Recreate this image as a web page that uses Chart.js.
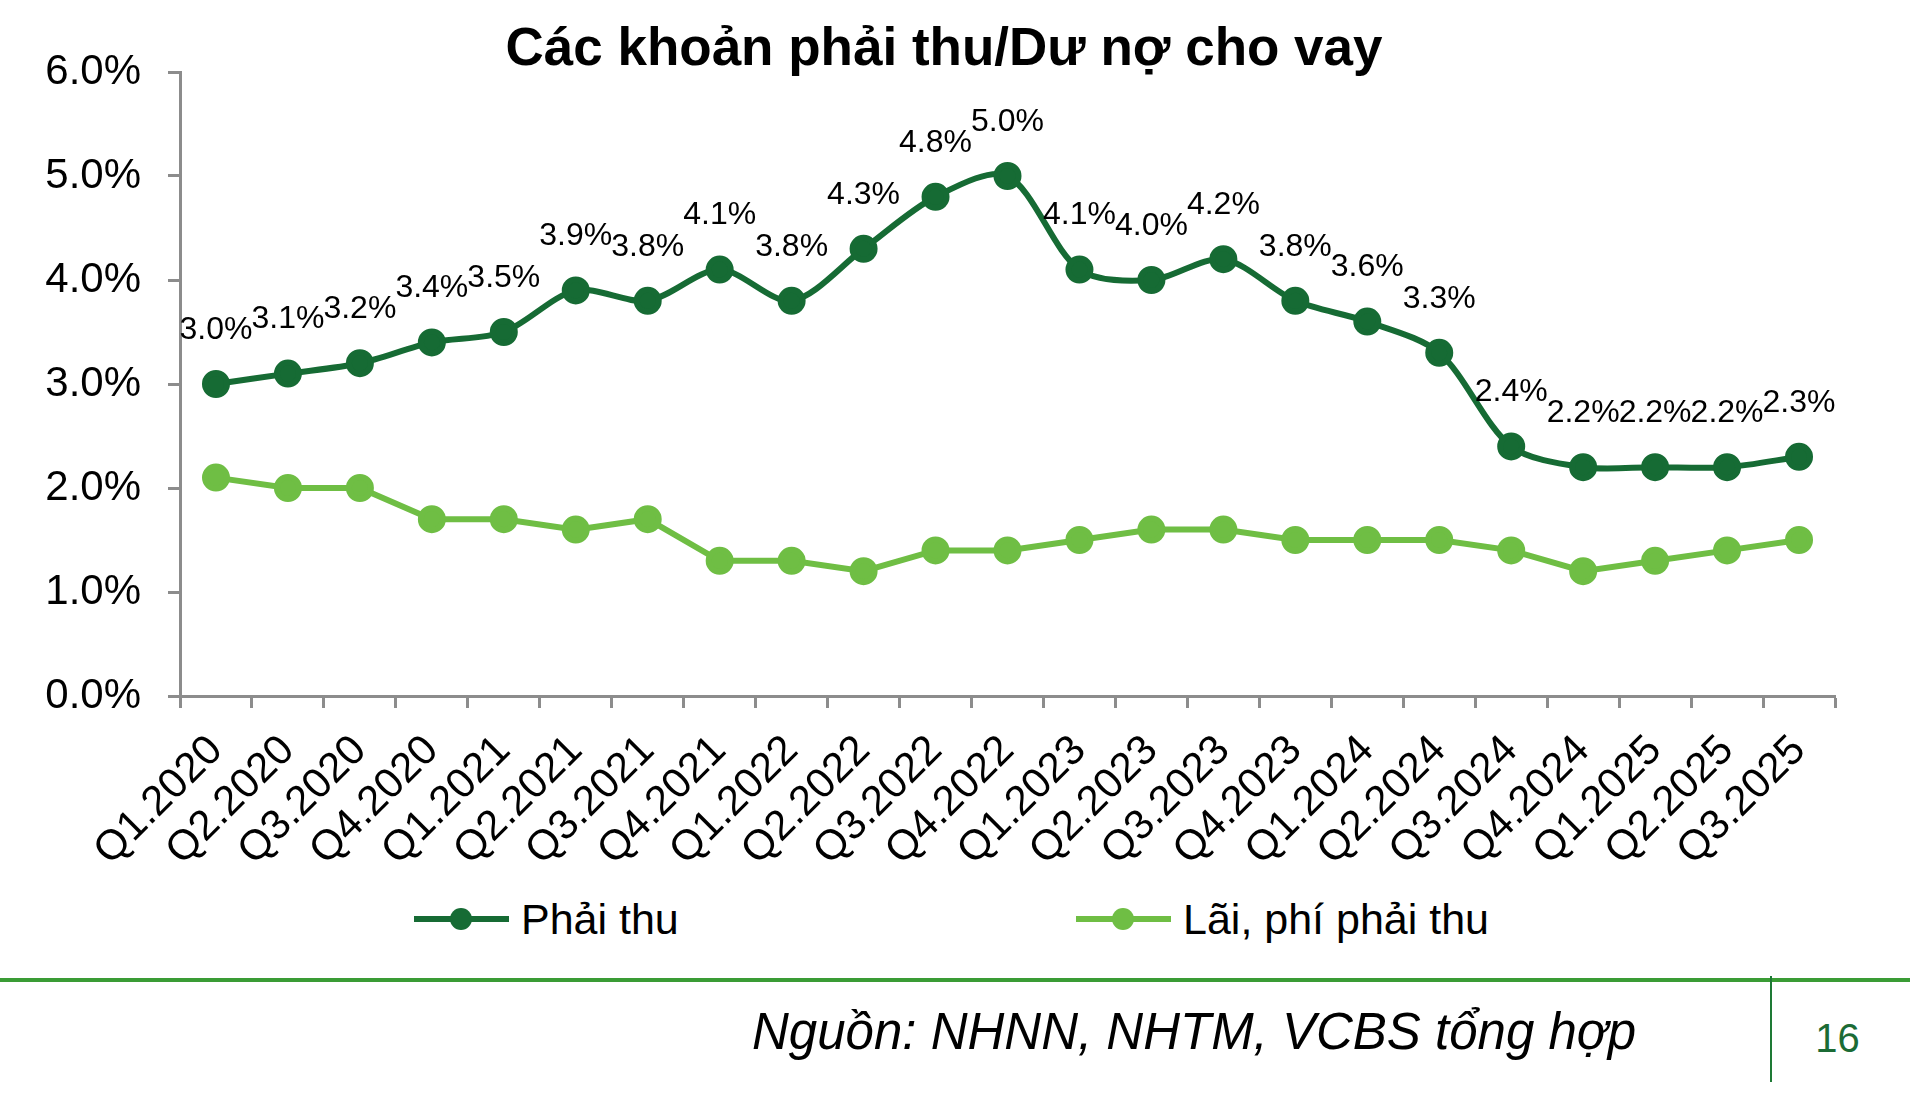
<!DOCTYPE html>
<html>
<head>
<meta charset="utf-8">
<script src="https://cdn.jsdelivr.net/npm/chart.js@4.4.1/dist/chart.umd.min.js"></script>
<style>
  html, body { margin: 0; padding: 0; background: #fff; }
  body { width: 1922px; height: 1094px; position: relative; overflow: hidden; font-family: "Liberation Sans", Arial, sans-serif; color: #000; }
  #wrap { position: absolute; left: 0; top: 0; width: 1922px; height: 880px; }
  #title { position: absolute; left: 0; top: 16px; width: 1888px; text-align: center; font-weight: bold; font-size: 53px; line-height: 62px; }
  #legend { position: absolute; left: 414px; top: 894px; height: 50px; display: flex; align-items: center; font-size: 43px; }
  .item { display: flex; align-items: center; }
  .item:first-child { width: 662px; }
  .sym { position: relative; width: 95px; height: 30px; margin-right: 12px; }
  .sym .ln { position: absolute; left: 0; right: 0; top: 12px; height: 6px; }
  .sym .dot { position: absolute; left: 36px; top: 4px; width: 22px; height: 22px; border-radius: 50%; }
  #rule { position: absolute; left: 0; top: 978px; width: 1910px; height: 4px; background: #3A9C35; }
  #vrule { position: absolute; left: 1770px; top: 976px; width: 2px; height: 106px; background: #1E7A35; }
  #source { position: absolute; right: 286px; top: 1003px; font-style: italic; font-size: 51px; line-height: 58px; }
  #page { position: absolute; left: 1800px; width: 75px; text-align: center; top: 1015px; font-size: 40px; line-height: 46px; color: #1B6B35; }
</style>
</head>
<body>
<div id="wrap"><canvas id="chart" width="1922" height="880"></canvas></div>
<div id="title">Các khoản phải thu/Dư nợ cho vay</div>
<div id="legend"></div>
<div id="rule"></div>
<div id="vrule"></div>
<div id="source">Nguồn: NHNN, NHTM, VCBS tổng hợp</div>
<div id="page">16</div>
<script>
// data
const categories = [
  "Q1.2020", "Q2.2020", "Q3.2020", "Q4.2020",
  "Q1.2021", "Q2.2021", "Q3.2021", "Q4.2021",
  "Q1.2022", "Q2.2022", "Q3.2022", "Q4.2022",
  "Q1.2023", "Q2.2023", "Q3.2023", "Q4.2023",
  "Q1.2024", "Q2.2024", "Q3.2024", "Q4.2024",
  "Q1.2025", "Q2.2025", "Q3.2025"
];
const phaiThu = [3.0, 3.1, 3.2, 3.4, 3.5, 3.9, 3.8, 4.1, 3.8, 4.3, 4.8, 5.0,
                 4.1, 4.0, 4.2, 3.8, 3.6, 3.3, 2.4, 2.2, 2.2, 2.2, 2.3];
const laiPhiPhaiThu = [2.1, 2.0, 2.0, 1.7, 1.7, 1.6, 1.7, 1.3, 1.3, 1.2, 1.4, 1.4,
                       1.5, 1.6, 1.6, 1.5, 1.5, 1.5, 1.4, 1.2, 1.3, 1.4, 1.5];
const seriesNames = ["Phải thu", "Lãi, phí phải thu"];
const yMin = 0;
const yMax = 6;
const yStep = 1;

// styles
const darkGreen = "#166B34";
const lightGreen = "#6FBE44";
const axisGray = "#8C8C8C";
const fontFamily = "'Liberation Sans', Arial, sans-serif";

// value labels above the dark series
const valueLabels = {
  id: "valueLabels",
  afterDatasetsDraw(chart) {
    const ctx = chart.ctx;
    const meta = chart.getDatasetMeta(0);
    const values = chart.data.datasets[0].data;
    ctx.save();
    ctx.font = "32px " + fontFamily;
    ctx.fillStyle = "#000";
    ctx.textAlign = "center";
    ctx.textBaseline = "middle";
    meta.data.forEach((pt, i) => {
      ctx.fillText(values[i].toFixed(1) + "%", pt.x, pt.y - 54);
    });
    ctx.restore();
  }
};

const chart = new Chart(document.getElementById("chart").getContext("2d"), {
  type: "line",
  data: {
    labels: categories,
    datasets: [
      {
        label: seriesNames[0],
        data: phaiThu,
        borderColor: darkGreen,
        backgroundColor: darkGreen,
        pointBackgroundColor: darkGreen,
        pointBorderColor: darkGreen,
        borderWidth: 6,
        pointRadius: 11,
        pointHoverRadius: 11,
        tension: 0.3
      },
      {
        label: seriesNames[1],
        data: laiPhiPhaiThu,
        borderColor: lightGreen,
        backgroundColor: lightGreen,
        pointBackgroundColor: lightGreen,
        pointBorderColor: lightGreen,
        borderWidth: 6,
        pointRadius: 11,
        pointHoverRadius: 11,
        tension: 0
      }
    ]
  },
  options: {
    responsive: false,
    animation: false,
    layout: { padding: { top: 72, right: 87, bottom: 0, left: 0 } },
    plugins: {
      legend: { display: false },
      title: { display: false },
      tooltip: { enabled: false }
    },
    scales: {
      x: {
        offset: true,
        grid: {
          offset: true,
          drawOnChartArea: false,
          tickLength: 12,
          tickColor: axisGray,
          tickWidth: 3
        },
        border: { color: axisGray, width: 3 },
        ticks: {
          minRotation: 45,
          maxRotation: 45,
          autoSkip: false,
          padding: 18,
          color: "#000",
          font: { size: 42, family: fontFamily }
        },
        afterFit(scale) { scale.height = 184; }
      },
      y: {
        min: yMin,
        max: yMax,
        grid: {
          drawOnChartArea: false,
          tickLength: 12,
          tickColor: axisGray,
          tickWidth: 3
        },
        border: { color: axisGray, width: 3 },
        ticks: {
          stepSize: yStep,
          padding: 27,
          color: "#000",
          font: { size: 42, family: fontFamily },
          callback: v => v.toFixed(1) + "%"
        },
        afterFit(scale) { scale.width = 180; }
      }
    }
  },
  plugins: [valueLabels]
});

// legend built from the datasets
const legend = document.getElementById("legend");
chart.data.datasets.forEach(ds => {
  const item = document.createElement("div");
  item.className = "item";
  item.innerHTML =
    '<div class="sym"><div class="ln" style="background:' + ds.borderColor + '"></div>' +
    '<div class="dot" style="background:' + ds.borderColor + '"></div></div>' +
    '<span>' + ds.label + '</span>';
  legend.appendChild(item);
});
</script>
</body>
</html>
